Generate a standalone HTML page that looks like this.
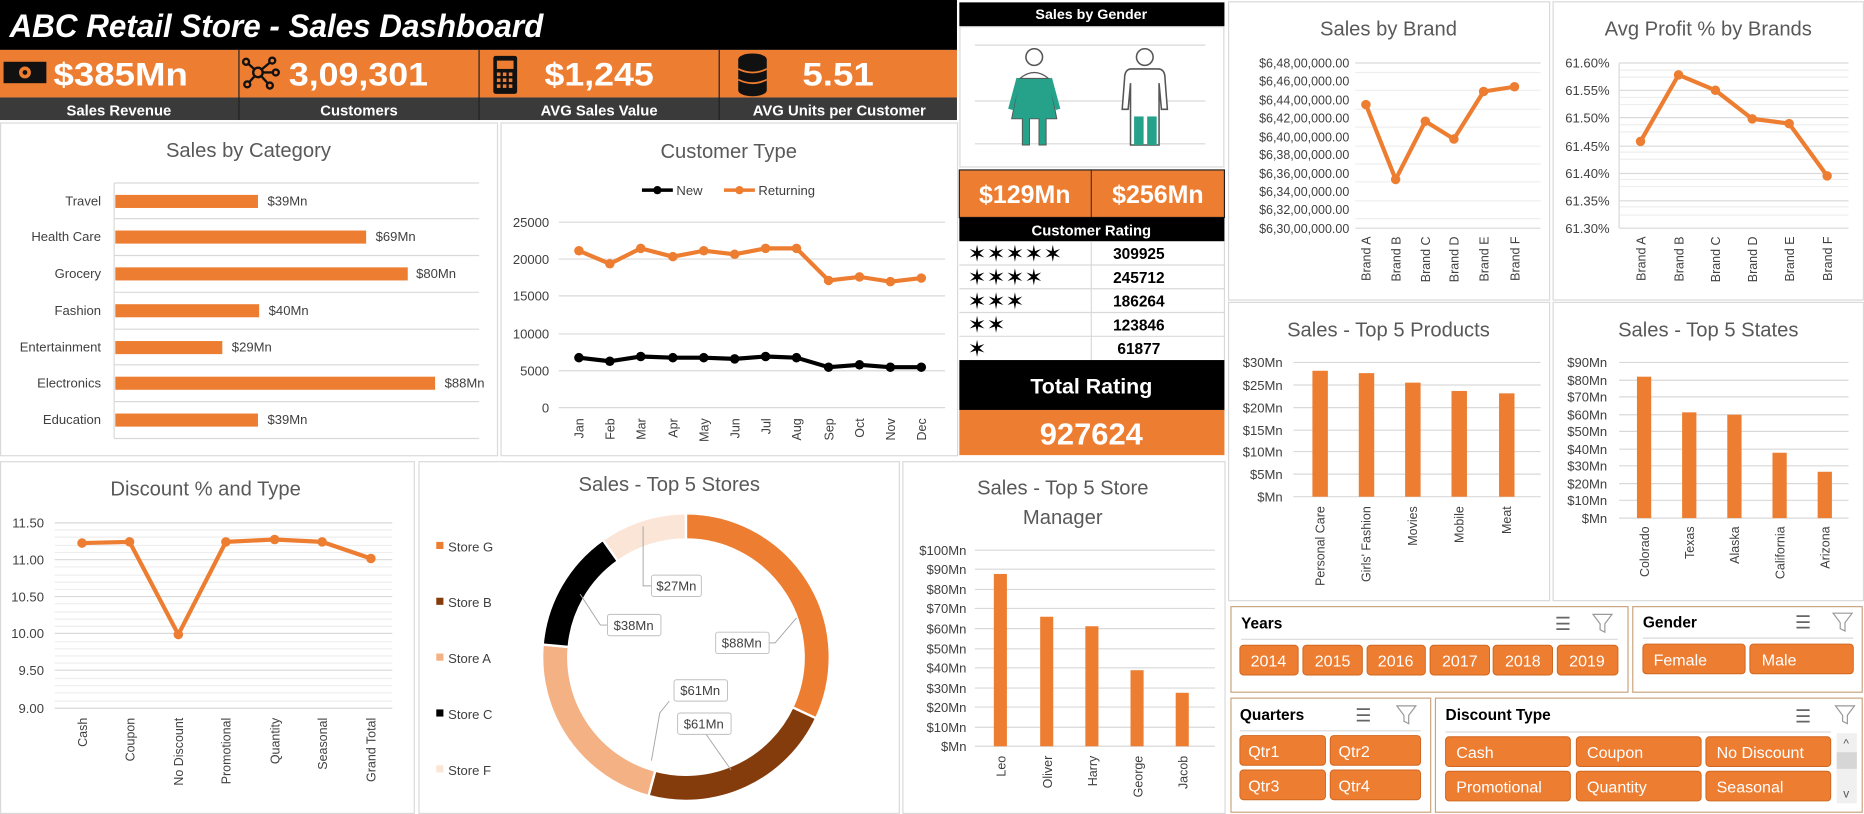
<!DOCTYPE html>
<html><head><meta charset="utf-8"><style>
html,body{margin:0;padding:0;background:#fff;}
svg{display:block;}
text{font-family:"Liberation Sans",sans-serif;}
</style></head><body>
<svg width="1864" height="814" viewBox="0 0 1568 685" preserveAspectRatio="none" xmlns="http://www.w3.org/2000/svg">
<rect x="0" y="0" width="1568" height="685" fill="#fff"/>
<g fill="none" stroke="#d9d9d9" stroke-width="1">
<rect x="0.5" y="103.5" width="418" height="280"/>
<rect x="421.5" y="103.5" width="384" height="280"/>
<rect x="1033.5" y="1.5" width="270" height="251"/>
<rect x="1306.5" y="1.5" width="261" height="251"/>
<rect x="1033.5" y="254.5" width="270" height="251"/>
<rect x="1306.5" y="254.5" width="261" height="251"/>
<rect x="0.5" y="388.5" width="348" height="296"/>
<rect x="352.5" y="388.5" width="404" height="296"/>
<rect x="759.5" y="388.5" width="271" height="296"/>
<rect x="807.5" y="22.5" width="222" height="118"/>
</g>
<rect x="0" y="0" width="805" height="42" fill="#000"/>
<text x="8" y="31" fill="#fff" font-size="27" font-weight="bold" font-style="italic" textLength="449" lengthAdjust="spacingAndGlyphs">ABC Retail Store - Sales Dashboard</text>
<rect x="0" y="42" width="805" height="40" fill="#ED7D31"/>
<rect x="0" y="82" width="805" height="19" fill="#3a3a3a"/>
<g stroke="#222" stroke-width="1"><line x1="201" y1="42" x2="201" y2="101"/><line x1="403" y1="42" x2="403" y2="101"/><line x1="605" y1="42" x2="605" y2="101"/></g>
<g fill="#fff" font-weight="bold" font-size="27">
<text x="45" y="72" textLength="113" lengthAdjust="spacingAndGlyphs">$385Mn</text><text x="243" y="72" textLength="117" lengthAdjust="spacingAndGlyphs">3,09,301</text><text x="458" y="72" textLength="92" lengthAdjust="spacingAndGlyphs">$1,245</text><text x="675" y="72" textLength="60" lengthAdjust="spacingAndGlyphs">5.51</text></g>
<g fill="#fff" font-weight="bold" font-size="12.5" text-anchor="middle">
<text x="100" y="97">Sales Revenue</text><text x="302" y="97">Customers</text><text x="504" y="97">AVG Sales Value</text><text x="706" y="97">AVG Units per Customer</text></g>
<rect x="3" y="52" width="36" height="18" fill="#111"/><circle cx="21" cy="61" r="5" fill="#ED7D31"/><circle cx="21" cy="61" r="2" fill="#111"/>
<g stroke="#111" stroke-width="2" fill="#ED7D31"><line x1="217" y1="61" x2="207" y2="52"/><line x1="217" y1="61" x2="229" y2="51"/><line x1="217" y1="61" x2="208" y2="71"/><line x1="217" y1="61" x2="227" y2="72"/><line x1="217" y1="61" x2="232" y2="61"/><circle cx="217" cy="61" r="4"/><circle cx="207" cy="52" r="2.5"/><circle cx="229" cy="51" r="2.5"/><circle cx="208" cy="71" r="2.5"/><circle cx="227" cy="72" r="2.5"/><circle cx="232" cy="61" r="2.5"/></g>
<rect x="415" y="47" width="20" height="32" rx="2" fill="#111"/><rect x="418" y="51" width="14" height="7" fill="#ED7D31"/>
<g fill="#ED7D31"><rect x="418" y="61" width="3" height="3"/><rect x="423" y="61" width="3" height="3"/><rect x="428" y="61" width="3" height="3"/><rect x="418" y="66" width="3" height="3"/><rect x="423" y="66" width="3" height="3"/><rect x="428" y="66" width="3" height="3"/><rect x="418" y="71" width="3" height="3"/><rect x="423" y="71" width="3" height="3"/><rect x="428" y="71" width="3" height="3"/></g>
<g fill="#111"><ellipse cx="633" cy="50" rx="12" ry="5"/><rect x="621" y="50" width="24" height="26"/><ellipse cx="633" cy="76" rx="12" ry="5"/></g>
<g stroke="#ED7D31" stroke-width="1.5" fill="none"><path d="M621 58 Q633 64 645 58"/><path d="M621 67 Q633 73 645 67"/></g>

<text x="209" y="132" font-size="17" fill="#595959" text-anchor="middle">Sales by Category</text>
<g stroke="#d9d9d9"><line x1="96" y1="154" x2="403" y2="154"/><line x1="96" y1="184" x2="403" y2="184"/><line x1="96" y1="215" x2="403" y2="215"/><line x1="96" y1="246" x2="403" y2="246"/><line x1="96" y1="277" x2="403" y2="277"/><line x1="96" y1="307" x2="403" y2="307"/><line x1="96" y1="338" x2="403" y2="338"/><line x1="96" y1="369" x2="403" y2="369"/><line x1="96" y1="154" x2="96" y2="369"/></g>
<g fill="#ED7D31"><rect x="97" y="164" width="120" height="11"/><rect x="97" y="194" width="211" height="11"/><rect x="97" y="225" width="246" height="11"/><rect x="97" y="256" width="121" height="11"/><rect x="97" y="287" width="90" height="11"/><rect x="97" y="317" width="269" height="11"/><rect x="97" y="348" width="120" height="11"/></g>
<g font-size="11" fill="#404040" text-anchor="end"><text x="85" y="173">Travel</text><text x="85" y="203">Health Care</text><text x="85" y="234">Grocery</text><text x="85" y="265">Fashion</text><text x="85" y="296">Entertainment</text><text x="85" y="326">Electronics</text><text x="85" y="357">Education</text></g>
<g font-size="11" fill="#404040"><text x="225" y="173">$39Mn</text><text x="316" y="203">$69Mn</text><text x="350" y="234">$80Mn</text><text x="226" y="265">$40Mn</text><text x="195" y="296">$29Mn</text><text x="374" y="326">$88Mn</text><text x="225" y="357">$39Mn</text></g>

<text x="613" y="133" font-size="17" fill="#595959" text-anchor="middle">Customer Type</text>
<line x1="540" y1="160" x2="566" y2="160" stroke="#000" stroke-width="3"/><circle cx="553" cy="160" r="3.5" fill="#000"/><text x="569" y="164" font-size="11" fill="#404040">New</text>
<line x1="609" y1="160" x2="635" y2="160" stroke="#ED7D31" stroke-width="3"/><circle cx="622" cy="160" r="3.5" fill="#ED7D31"/><text x="638" y="164" font-size="11" fill="#404040">Returning</text>
<g stroke="#d9d9d9"><line x1="470" y1="187" x2="795" y2="187"/><line x1="470" y1="218" x2="795" y2="218"/><line x1="470" y1="249" x2="795" y2="249"/><line x1="470" y1="281" x2="795" y2="281"/><line x1="470" y1="312" x2="795" y2="312"/><line x1="470" y1="343" x2="795" y2="343"/></g>
<g font-size="11" fill="#404040" text-anchor="end"><text x="462" y="191">25000</text><text x="462" y="222">20000</text><text x="462" y="253">15000</text><text x="462" y="285">10000</text><text x="462" y="316">5000</text><text x="462" y="347">0</text></g>
<polyline fill="none" stroke="#ED7D31" stroke-width="3.5" stroke-linejoin="round" points="487,211 513,222 539,209 566,216 592,211 618,214 644,209 670,209 697,236 723,233 749,237 775,234"/>
<g fill="#ED7D31"><circle cx="487" cy="211" r="4"/><circle cx="513" cy="222" r="4"/><circle cx="539" cy="209" r="4"/><circle cx="566" cy="216" r="4"/><circle cx="592" cy="211" r="4"/><circle cx="618" cy="214" r="4"/><circle cx="644" cy="209" r="4"/><circle cx="670" cy="209" r="4"/><circle cx="697" cy="236" r="4"/><circle cx="723" cy="233" r="4"/><circle cx="749" cy="237" r="4"/><circle cx="775" cy="234" r="4"/></g>
<polyline fill="none" stroke="#000" stroke-width="3.5" stroke-linejoin="round" points="487,301 513,304 539,300 566,301 592,301 618,302 644,300 670,301 697,309 723,307 749,309 775,309"/>
<g fill="#000"><circle cx="487" cy="301" r="4"/><circle cx="513" cy="304" r="4"/><circle cx="539" cy="300" r="4"/><circle cx="566" cy="301" r="4"/><circle cx="592" cy="301" r="4"/><circle cx="618" cy="302" r="4"/><circle cx="644" cy="300" r="4"/><circle cx="670" cy="301" r="4"/><circle cx="697" cy="309" r="4"/><circle cx="723" cy="307" r="4"/><circle cx="749" cy="309" r="4"/><circle cx="775" cy="309" r="4"/></g>
<g font-size="10.5" fill="#404040" text-anchor="end">
<text transform="translate(491,352) rotate(-90)">Jan</text><text transform="translate(517,352) rotate(-90)">Feb</text><text transform="translate(543,352) rotate(-90)">Mar</text><text transform="translate(570,352) rotate(-90)">Apr</text><text transform="translate(596,352) rotate(-90)">May</text><text transform="translate(622,352) rotate(-90)">Jun</text><text transform="translate(648,352) rotate(-90)">Jul</text><text transform="translate(674,352) rotate(-90)">Aug</text><text transform="translate(701,352) rotate(-90)">Sep</text><text transform="translate(727,352) rotate(-90)">Oct</text><text transform="translate(753,352) rotate(-90)">Nov</text><text transform="translate(779,352) rotate(-90)">Dec</text></g>

<rect x="807" y="2" width="223" height="20" fill="#000"/>
<text x="918" y="16" font-size="12" font-weight="bold" fill="#fff" text-anchor="middle">Sales by Gender</text>
<g stroke="#d9d9d9"><line x1="820" y1="38" x2="1014" y2="38"/><line x1="820" y1="85" x2="1014" y2="85"/><line x1="820" y1="121" x2="1014" y2="121"/></g>
<circle cx="870" cy="48" r="7" fill="#fff" stroke="#555" stroke-width="1.3"/>
<path d="M858 66 Q870 56 882 66 Z" fill="#fff" stroke="#555"/>
<path d="M857 66 L883 66 L885 80 L889 100 L880 100 L880 122 L874 122 L874 100 L866 100 L866 122 L860 122 L860 100 L851 100 L855 80 Z" fill="#26A28A" stroke="#555" stroke-width="0.8"/>
<path d="M857 66 L850 92 M883 66 L890 92" stroke="#26A28A" stroke-width="4" fill="none"/>
<circle cx="963" cy="48" r="7" fill="#fff" stroke="#555" stroke-width="1.3"/>
<path d="M952 58 L974 58 Q980 58 980 66 L982 92 L977 92 L975 70 L975 122 L951 122 L951 70 L949 92 L944 92 L946 66 Q946 58 952 58 Z" fill="#fff" stroke="#555" stroke-width="1.3"/>
<rect x="954" y="98" width="8" height="24" fill="#26A28A"/><rect x="965" y="98" width="8" height="24" fill="#26A28A"/>

<rect x="807" y="143" width="223" height="40" fill="#ED7D31"/>
<line x1="918" y1="143" x2="918" y2="183" stroke="#5a3010"/>
<rect x="807" y="143" width="223" height="40" fill="none" stroke="#222"/>
<g fill="#fff" font-weight="bold" font-size="21" text-anchor="middle"><text x="862" y="171">$129Mn</text><text x="974" y="171">$256Mn</text></g>
<rect x="807" y="183" width="223" height="20" fill="#000"/>
<text x="918" y="198" font-size="12.5" font-weight="bold" fill="#fff" text-anchor="middle">Customer Rating</text>
<g stroke="#d9d9d9"><line x1="807" y1="223" x2="1030" y2="223"/><line x1="807" y1="243" x2="1030" y2="243"/><line x1="807" y1="263" x2="1030" y2="263"/><line x1="807" y1="283" x2="1030" y2="283"/><line x1="918" y1="203" x2="918" y2="303"/><line x1="1030" y1="203" x2="1030" y2="303"/></g>
<g font-size="19" fill="#000" font-family="DejaVu Sans">
<text x="814" y="220">✶✶✶✶✶</text><text x="814" y="240">✶✶✶✶</text><text x="814" y="260">✶✶✶</text><text x="814" y="280">✶✶</text><text x="814" y="300">✶</text></g>
<g font-size="13" font-weight="bold" fill="#000" text-anchor="middle"><text x="958" y="218">309925</text><text x="958" y="238">245712</text><text x="958" y="258">186264</text><text x="958" y="278">123846</text><text x="958" y="298">61877</text></g>
<rect x="807" y="303" width="223" height="42" fill="#000"/>
<text x="918" y="331" font-size="18" font-weight="bold" fill="#fff" text-anchor="middle">Total Rating</text>
<rect x="807" y="345" width="223" height="38" fill="#ED7D31"/>
<text x="918" y="374" font-size="26" font-weight="bold" fill="#fff" text-anchor="middle">927624</text>

<text x="1168" y="30" font-size="17" fill="#595959" text-anchor="middle">Sales by Brand</text>
<g stroke="#eeeeee"><line x1="1140" y1="61" x2="1296" y2="61"/><line x1="1140" y1="76" x2="1296" y2="76"/><line x1="1140" y1="92" x2="1296" y2="92"/><line x1="1140" y1="107" x2="1296" y2="107"/><line x1="1140" y1="123" x2="1296" y2="123"/><line x1="1140" y1="138" x2="1296" y2="138"/><line x1="1140" y1="153" x2="1296" y2="153"/><line x1="1140" y1="169" x2="1296" y2="169"/><line x1="1140" y1="184" x2="1296" y2="184"/></g>
<g stroke="#d9d9d9"><line x1="1140" y1="53" x2="1296" y2="53"/><line x1="1140" y1="192" x2="1296" y2="192"/></g>
<g font-size="10.5" fill="#404040" text-anchor="end"><text x="1135" y="57">$6,48,00,000.00</text><text x="1135" y="72">$6,46,00,000.00</text><text x="1135" y="88">$6,44,00,000.00</text><text x="1135" y="103">$6,42,00,000.00</text><text x="1135" y="119">$6,40,00,000.00</text><text x="1135" y="134">$6,38,00,000.00</text><text x="1135" y="150">$6,36,00,000.00</text><text x="1135" y="165">$6,34,00,000.00</text><text x="1135" y="180">$6,32,00,000.00</text><text x="1135" y="196">$6,30,00,000.00</text></g>
<polyline fill="none" stroke="#ED7D31" stroke-width="3.5" stroke-linejoin="round" points="1149,88 1174,151 1199,102 1223,117 1248,77 1274,73"/>
<g fill="#ED7D31"><circle cx="1149" cy="88" r="4"/><circle cx="1174" cy="151" r="4"/><circle cx="1199" cy="102" r="4"/><circle cx="1223" cy="117" r="4"/><circle cx="1248" cy="77" r="4"/><circle cx="1274" cy="73" r="4"/></g>
<g font-size="10.5" fill="#404040" text-anchor="end"><text transform="translate(1153,199) rotate(-90)">Brand A</text><text transform="translate(1178,199) rotate(-90)">Brand B</text><text transform="translate(1203,199) rotate(-90)">Brand C</text><text transform="translate(1227,199) rotate(-90)">Brand D</text><text transform="translate(1252,199) rotate(-90)">Brand E</text><text transform="translate(1278,199) rotate(-90)">Brand F</text></g>

<text x="1437" y="30" font-size="17" fill="#595959" text-anchor="middle">Avg Profit % by Brands</text>
<g stroke="#eeeeee"><line x1="1362" y1="65" x2="1555" y2="65"/><line x1="1362" y1="88" x2="1555" y2="88"/><line x1="1362" y1="111" x2="1555" y2="111"/><line x1="1362" y1="134" x2="1555" y2="134"/><line x1="1362" y1="157" x2="1555" y2="157"/><line x1="1362" y1="181" x2="1555" y2="181"/><line x1="1362" y1="59" x2="1555" y2="59"/><line x1="1362" y1="82" x2="1555" y2="82"/><line x1="1362" y1="105" x2="1555" y2="105"/><line x1="1362" y1="128" x2="1555" y2="128"/><line x1="1362" y1="151" x2="1555" y2="151"/><line x1="1362" y1="174" x2="1555" y2="174"/></g>
<g stroke="#d9d9d9"><line x1="1362" y1="53" x2="1555" y2="53"/><line x1="1362" y1="76" x2="1555" y2="76"/><line x1="1362" y1="99" x2="1555" y2="99"/><line x1="1362" y1="123" x2="1555" y2="123"/><line x1="1362" y1="146" x2="1555" y2="146"/><line x1="1362" y1="169" x2="1555" y2="169"/><line x1="1362" y1="192" x2="1555" y2="192"/><line x1="1362" y1="53" x2="1362" y2="192"/></g>
<g font-size="11" fill="#404040" text-anchor="end"><text x="1354" y="57">61.60%</text><text x="1354" y="80">61.55%</text><text x="1354" y="103">61.50%</text><text x="1354" y="127">61.45%</text><text x="1354" y="150">61.40%</text><text x="1354" y="173">61.35%</text><text x="1354" y="196">61.30%</text></g>
<polyline fill="none" stroke="#ED7D31" stroke-width="3.5" stroke-linejoin="round" points="1380,119 1412,63 1443,76 1474,100 1505,104 1537,148"/>
<g fill="#ED7D31"><circle cx="1380" cy="119" r="4"/><circle cx="1412" cy="63" r="4"/><circle cx="1443" cy="76" r="4"/><circle cx="1474" cy="100" r="4"/><circle cx="1505" cy="104" r="4"/><circle cx="1537" cy="148" r="4"/></g>
<g font-size="10.5" fill="#404040" text-anchor="end"><text transform="translate(1384,199) rotate(-90)">Brand A</text><text transform="translate(1416,199) rotate(-90)">Brand B</text><text transform="translate(1447,199) rotate(-90)">Brand C</text><text transform="translate(1478,199) rotate(-90)">Brand D</text><text transform="translate(1509,199) rotate(-90)">Brand E</text><text transform="translate(1541,199) rotate(-90)">Brand F</text></g>

<text x="1168" y="283" font-size="17" fill="#595959" text-anchor="middle">Sales - Top 5 Products</text>
<g stroke="#d9d9d9"><line x1="1088" y1="305" x2="1296" y2="305"/><line x1="1088" y1="324" x2="1296" y2="324"/><line x1="1088" y1="343" x2="1296" y2="343"/><line x1="1088" y1="362" x2="1296" y2="362"/><line x1="1088" y1="380" x2="1296" y2="380"/><line x1="1088" y1="399" x2="1296" y2="399"/><line x1="1088" y1="418" x2="1296" y2="418"/></g>
<g font-size="11" fill="#404040" text-anchor="end"><text x="1079" y="309">$30Mn</text><text x="1079" y="328">$25Mn</text><text x="1079" y="347">$20Mn</text><text x="1079" y="366">$15Mn</text><text x="1079" y="384">$10Mn</text><text x="1079" y="403">$5Mn</text><text x="1079" y="422">$Mn</text></g>
<g fill="#ED7D31"><rect x="1104" y="312" width="13" height="106"/><rect x="1143" y="314" width="13" height="104"/><rect x="1182" y="322" width="13" height="96"/><rect x="1221" y="329" width="13" height="89"/><rect x="1261" y="331" width="13" height="87"/></g>
<g font-size="10.5" fill="#404040" text-anchor="end"><text transform="translate(1114,426) rotate(-90)">Personal Care</text><text transform="translate(1153,426) rotate(-90)">Girls' Fashion</text><text transform="translate(1192,426) rotate(-90)">Movies</text><text transform="translate(1231,426) rotate(-90)">Mobile</text><text transform="translate(1271,426) rotate(-90)">Meat</text></g>

<text x="1437" y="283" font-size="17" fill="#595959" text-anchor="middle">Sales - Top 5 States</text>
<g stroke="#d9d9d9"><line x1="1362" y1="305" x2="1555" y2="305"/><line x1="1362" y1="320" x2="1555" y2="320"/><line x1="1362" y1="334" x2="1555" y2="334"/><line x1="1362" y1="349" x2="1555" y2="349"/><line x1="1362" y1="363" x2="1555" y2="363"/><line x1="1362" y1="378" x2="1555" y2="378"/><line x1="1362" y1="392" x2="1555" y2="392"/><line x1="1362" y1="407" x2="1555" y2="407"/><line x1="1362" y1="421" x2="1555" y2="421"/><line x1="1362" y1="436" x2="1555" y2="436"/></g>
<g font-size="11" fill="#404040" text-anchor="end"><text x="1352" y="309">$90Mn</text><text x="1352" y="324">$80Mn</text><text x="1352" y="338">$70Mn</text><text x="1352" y="353">$60Mn</text><text x="1352" y="367">$50Mn</text><text x="1352" y="382">$40Mn</text><text x="1352" y="396">$30Mn</text><text x="1352" y="411">$20Mn</text><text x="1352" y="425">$10Mn</text><text x="1352" y="440">$Mn</text></g>
<g fill="#ED7D31"><rect x="1377" y="317" width="12" height="119"/><rect x="1415" y="347" width="12" height="89"/><rect x="1453" y="349" width="12" height="87"/><rect x="1491" y="381" width="12" height="55"/><rect x="1529" y="397" width="12" height="39"/></g>
<g font-size="10.5" fill="#404040" text-anchor="end"><text transform="translate(1387,443) rotate(-90)">Colorado</text><text transform="translate(1425,443) rotate(-90)">Texas</text><text transform="translate(1463,443) rotate(-90)">Alaska</text><text transform="translate(1501,443) rotate(-90)">California</text><text transform="translate(1539,443) rotate(-90)">Arizona</text></g>

<text x="173" y="417" font-size="17" fill="#595959" text-anchor="middle">Discount % and Type</text>
<g stroke="#eeeeee"><line x1="46" y1="446" x2="330" y2="446"/><line x1="46" y1="452" x2="330" y2="452"/><line x1="46" y1="459" x2="330" y2="459"/><line x1="46" y1="465" x2="330" y2="465"/><line x1="46" y1="477" x2="330" y2="477"/><line x1="46" y1="484" x2="330" y2="484"/><line x1="46" y1="490" x2="330" y2="490"/><line x1="46" y1="496" x2="330" y2="496"/><line x1="46" y1="508" x2="330" y2="508"/><line x1="46" y1="515" x2="330" y2="515"/><line x1="46" y1="521" x2="330" y2="521"/><line x1="46" y1="527" x2="330" y2="527"/><line x1="46" y1="540" x2="330" y2="540"/><line x1="46" y1="546" x2="330" y2="546"/><line x1="46" y1="552" x2="330" y2="552"/><line x1="46" y1="558" x2="330" y2="558"/><line x1="46" y1="571" x2="330" y2="571"/><line x1="46" y1="577" x2="330" y2="577"/><line x1="46" y1="583" x2="330" y2="583"/><line x1="46" y1="590" x2="330" y2="590"/></g>
<g stroke="#d9d9d9"><line x1="46" y1="440" x2="330" y2="440"/><line x1="46" y1="471" x2="330" y2="471"/><line x1="46" y1="502" x2="330" y2="502"/><line x1="46" y1="533" x2="330" y2="533"/><line x1="46" y1="564" x2="330" y2="564"/><line x1="46" y1="596" x2="330" y2="596"/></g>
<g font-size="11" fill="#404040" text-anchor="end"><text x="37" y="444">11.50</text><text x="37" y="475">11.00</text><text x="37" y="506">10.50</text><text x="37" y="537">10.00</text><text x="37" y="568">9.50</text><text x="37" y="600">9.00</text></g>
<polyline fill="none" stroke="#ED7D31" stroke-width="3.5" stroke-linejoin="round" points="69,457 109,456 150,534 190,456 231,454 271,456 312,470"/>
<g fill="#ED7D31"><circle cx="69" cy="457" r="4"/><circle cx="109" cy="456" r="4"/><circle cx="150" cy="534" r="4"/><circle cx="190" cy="456" r="4"/><circle cx="231" cy="454" r="4"/><circle cx="271" cy="456" r="4"/><circle cx="312" cy="470" r="4"/></g>
<g font-size="10.5" fill="#404040" text-anchor="end"><text transform="translate(73,604) rotate(-90)">Cash</text><text transform="translate(113,604) rotate(-90)">Coupon</text><text transform="translate(154,604) rotate(-90)">No Discount</text><text transform="translate(194,604) rotate(-90)">Promotional</text><text transform="translate(235,604) rotate(-90)">Quantity</text><text transform="translate(275,604) rotate(-90)">Seasonal</text><text transform="translate(316,604) rotate(-90)">Grand Total</text></g>

<text x="563" y="413" font-size="17" fill="#595959" text-anchor="middle">Sales - Top 5 Stores</text>
<g font-size="11" fill="#404040">
<rect x="367" y="456" width="6" height="6" fill="#ED7D31"/><text x="377" y="464">Store G</text>
<rect x="367" y="503" width="6" height="6" fill="#843C0C"/><text x="377" y="511">Store B</text>
<rect x="367" y="550" width="6" height="6" fill="#F4B183"/><text x="377" y="558">Store A</text>
<rect x="367" y="597" width="6" height="6" fill="#000"/><text x="377" y="605">Store C</text>
<rect x="367" y="644" width="6" height="6" fill="#FBE5D6"/><text x="377" y="652">Store F</text></g>
<g stroke="#fff" stroke-width="2">
<path d="M577 432 A121 121 0 0 1 686.5 604.5 L666.6 595.2 A99 99 0 0 0 577 454 Z" fill="#ED7D31"/>
<path d="M686.5 604.5 A121 121 0 0 1 545.5 669.8 L551.2 648.6 A99 99 0 0 0 666.6 595.2 Z" fill="#843C0C"/>
<path d="M545.5 669.8 A121 121 0 0 1 456.5 542.4 L478.4 544.4 A99 99 0 0 0 551.2 648.6 Z" fill="#F4B183"/>
<path d="M456.5 542.4 A121 121 0 0 1 507.1 454.3 L519.8 472.2 A99 99 0 0 0 478.4 544.4 Z" fill="#000"/>
<path d="M507.1 454.3 A121 121 0 0 1 577 432 L577 454 A99 99 0 0 0 519.8 472.2 Z" fill="#FBE5D6"/>
</g>
<g stroke="#a6a6a6" fill="none" stroke-width="0.8"><polyline points="541,443 541,493 548,493"/><polyline points="488,500 505,526 511,526"/><polyline points="647,541 652,541 670,520"/><polyline points="563,590 555,600 548,640"/><polyline points="594,618 615,648"/></g>
<g fill="#fff" stroke="#bfbfbf" stroke-width="0.8"><rect x="548" y="484" width="42" height="18" rx="2"/><rect x="511" y="517" width="45" height="18" rx="2"/><rect x="602" y="532" width="45" height="18" rx="2"/><rect x="567" y="572" width="45" height="18" rx="2"/><rect x="570" y="600" width="45" height="18" rx="2"/></g>
<g font-size="11" fill="#404040" text-anchor="middle"><text x="569" y="497">$27Mn</text><text x="533" y="530">$38Mn</text><text x="624" y="545">$88Mn</text><text x="589" y="585">$61Mn</text><text x="592" y="613">$61Mn</text></g>

<text x="894" y="416" font-size="17" fill="#595959" text-anchor="middle">Sales - Top 5 Store</text>
<text x="894" y="441" font-size="17" fill="#595959" text-anchor="middle">Manager</text>
<g stroke="#d9d9d9"><line x1="820" y1="463" x2="1022" y2="463"/><line x1="820" y1="479" x2="1022" y2="479"/><line x1="820" y1="496" x2="1022" y2="496"/><line x1="820" y1="512" x2="1022" y2="512"/><line x1="820" y1="529" x2="1022" y2="529"/><line x1="820" y1="546" x2="1022" y2="546"/><line x1="820" y1="562" x2="1022" y2="562"/><line x1="820" y1="579" x2="1022" y2="579"/><line x1="820" y1="595" x2="1022" y2="595"/><line x1="820" y1="612" x2="1022" y2="612"/><line x1="820" y1="628" x2="1022" y2="628"/></g>
<g font-size="11" fill="#404040" text-anchor="end"><text x="813" y="467">$100Mn</text><text x="813" y="483">$90Mn</text><text x="813" y="500">$80Mn</text><text x="813" y="516">$70Mn</text><text x="813" y="533">$60Mn</text><text x="813" y="550">$50Mn</text><text x="813" y="566">$40Mn</text><text x="813" y="583">$30Mn</text><text x="813" y="599">$20Mn</text><text x="813" y="616">$10Mn</text><text x="813" y="632">$Mn</text></g>
<g fill="#ED7D31"><rect x="836" y="483" width="11" height="145"/><rect x="875" y="519" width="11" height="109"/><rect x="913" y="527" width="11" height="101"/><rect x="951" y="564" width="11" height="64"/><rect x="989" y="583" width="11" height="45"/></g>
<g font-size="10.5" fill="#404040" text-anchor="end"><text transform="translate(846,636) rotate(-90)">Leo</text><text transform="translate(885,636) rotate(-90)">Oliver</text><text transform="translate(923,636) rotate(-90)">Harry</text><text transform="translate(961,636) rotate(-90)">George</text><text transform="translate(999,636) rotate(-90)">Jacob</text></g>

<g fill="none" stroke="#c9a47e" stroke-width="1"><rect x="1035.5" y="510.5" width="334" height="72"/><rect x="1373.5" y="510.5" width="193" height="72"/><rect x="1035.5" y="587.5" width="168" height="96"/><rect x="1207.5" y="587.5" width="359" height="96"/></g>
<g stroke="#d9d9d9"><line x1="1044" y1="538" x2="1361" y2="538"/><line x1="1382" y1="537" x2="1559" y2="537"/><line x1="1043" y1="615" x2="1195" y2="615"/><line x1="1216" y1="616" x2="1540" y2="616"/></g>
<g font-size="13" font-weight="bold" fill="#000"><text x="1044" y="529">Years</text><text x="1382" y="528">Gender</text><text x="1043" y="606">Quarters</text><text x="1216" y="606">Discount Type</text></g>
<g font-size="15" fill="#666"><text x="1308" y="530">☰</text><text x="1510" y="529">☰</text><text x="1140" y="607">☰</text><text x="1510" y="608">☰</text></g>
<g fill="none" stroke="#999" stroke-width="1"><path d="M1340 517 L1356 517 L1350 525 L1350 532 L1346 530 L1346 525 Z"/><path d="M1542 516 L1558 516 L1552 524 L1552 531 L1548 529 L1548 524 Z"/><path d="M1175 594 L1191 594 L1185 602 L1185 609 L1181 607 L1181 602 Z"/><path d="M1544 594 L1560 594 L1554 602 L1554 609 L1550 607 L1550 602 Z"/></g>
<g fill="#ED7D31" stroke="#d0661f" stroke-width="0.8">
<rect x="1043" y="543" width="49" height="25" rx="3"/><rect x="1096" y="543" width="50" height="25" rx="3"/><rect x="1150" y="543" width="49" height="25" rx="3"/><rect x="1203" y="543" width="50" height="25" rx="3"/><rect x="1256" y="543" width="50" height="25" rx="3"/><rect x="1310" y="543" width="51" height="25" rx="3"/>
<rect x="1382" y="542" width="86" height="25" rx="3"/><rect x="1472" y="542" width="87" height="25" rx="3"/>
<rect x="1043" y="619" width="72" height="25" rx="3"/><rect x="1119" y="619" width="76" height="25" rx="3"/><rect x="1043" y="648" width="72" height="25" rx="3"/><rect x="1119" y="648" width="76" height="25" rx="3"/>
<rect x="1216" y="620" width="105" height="25" rx="3"/><rect x="1326" y="620" width="105" height="25" rx="3"/><rect x="1435" y="620" width="105" height="25" rx="3"/>
<rect x="1216" y="649" width="105" height="25" rx="3"/><rect x="1326" y="649" width="105" height="25" rx="3"/><rect x="1435" y="649" width="105" height="25" rx="3"/></g>
<g font-size="13.5" fill="#fff" text-anchor="middle"><text x="1067" y="561">2014</text><text x="1121" y="561">2015</text><text x="1174" y="561">2016</text><text x="1228" y="561">2017</text><text x="1281" y="561">2018</text><text x="1335" y="561">2019</text></g>
<g font-size="13.5" fill="#fff"><text x="1391" y="560">Female</text><text x="1482" y="560">Male</text><text x="1050" y="637">Qtr1</text><text x="1126" y="637">Qtr2</text><text x="1050" y="666">Qtr3</text><text x="1126" y="666">Qtr4</text><text x="1225" y="638">Cash</text><text x="1335" y="638">Coupon</text><text x="1444" y="638">No Discount</text><text x="1225" y="667">Promotional</text><text x="1335" y="667">Quantity</text><text x="1444" y="667">Seasonal</text></g>
<rect x="1545" y="617" width="17" height="59" fill="#f0f0f0"/><rect x="1545" y="633" width="17" height="14" fill="#d6d6d6"/>
<g font-size="10" fill="#555" text-anchor="middle"><text x="1553" y="629">^</text><text x="1553" y="671">v</text></g>
</svg>
</body></html>
